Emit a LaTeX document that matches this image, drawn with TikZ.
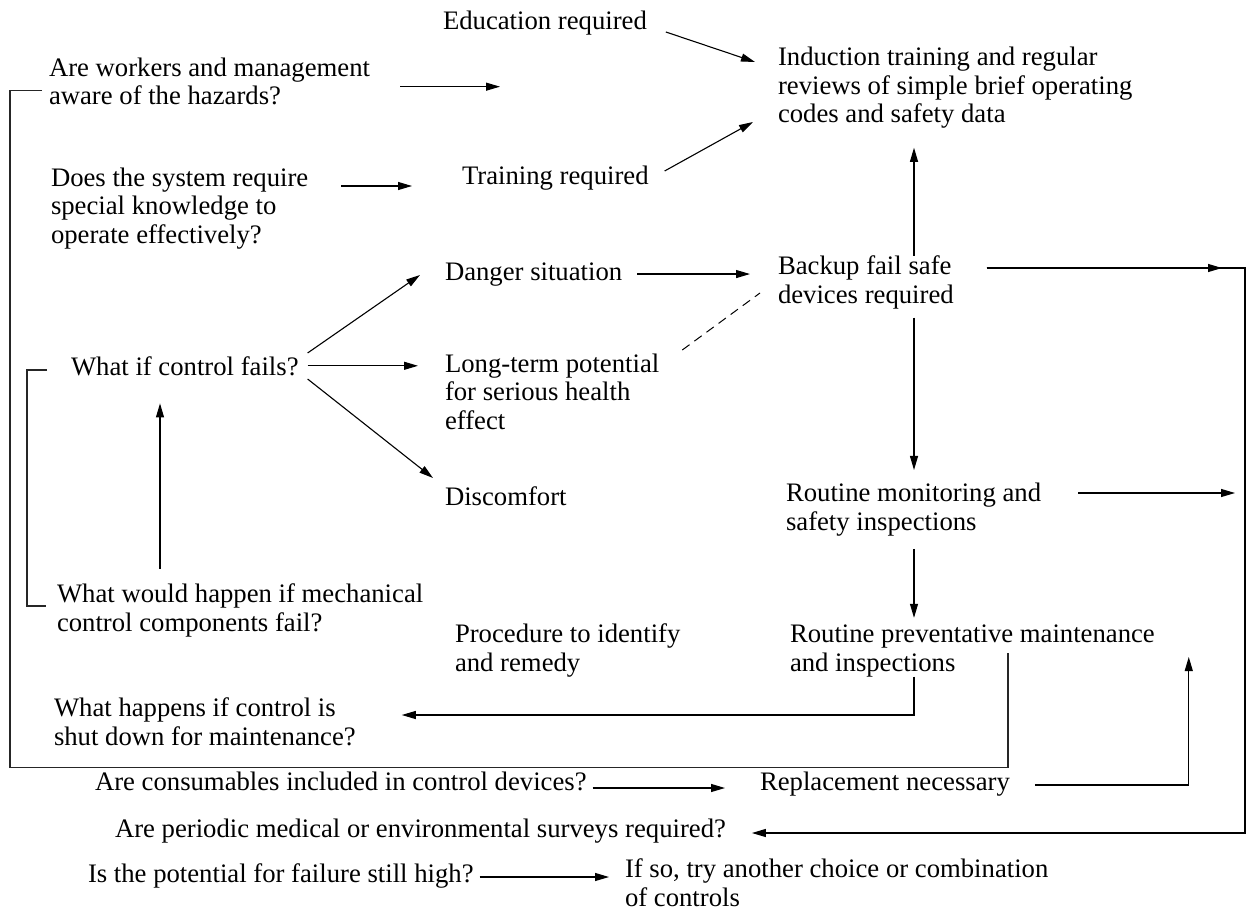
\documentclass[tikz,border=0pt]{standalone}
\usepackage{fontspec}
\setmainfont{Liberation Serif}
\usetikzlibrary{arrows.meta}

\begin{document}
\begin{tikzpicture}[
  x=1pt,y=-1pt,
  txt/.style={anchor=base west,inner sep=0pt,outer sep=0pt,align=left,
    font=\fontsize{26.7}{28.5}\selectfont},
  arrow/.style={-{Triangle[length=14pt,width=8pt]},line width=1.1pt},
  dashline/.style={dash pattern=on 9pt off 6pt,line width=1pt},
  bracket/.style={line width=1.4pt,black!85},
]
\useasboundingbox (0,0) rectangle (1247,912);

% Questions (left column), placed by the baseline of the last line
\node[txt] (aware) at (49,105) {Are workers and management\\aware of the hazards?};
\node[txt] (know) at (51,243) {Does the system require\\special knowledge to\\operate effectively?};
\node[txt] (fails) at (71,375) {What if control fails?};
\node[txt] (mech) at (57,631) {What would happen if mechanical\\control components fail?};
\node[txt] (shut) at (54,745) {What happens if control is\\shut down for maintenance?};

% Outcomes (middle column)
\node[txt] (edu) at (443,30) {Education required};
\node[txt] (train) at (462,185) {Training required};
\node[txt] (danger) at (445,280) {Danger situation};
\node[txt] (longterm) at (445,429) {Long-term potential\\for serious health\\effect};
\node[txt] (discomf) at (445,505) {Discomfort};
\node[txt] (proc) at (455,671) {Procedure to identify\\and remedy};

% Measures (right column)
\node[txt] (induct) at (778,123) {Induction training and regular\\reviews of simple brief operating\\codes and safety data};
\node[txt] (backup) at (778,303) {Backup fail safe\\devices required};
\node[txt] (monitor) at (786,530) {Routine monitoring and\\safety inspections};
\node[txt] (prevent) at (790,671) {Routine preventative maintenance\\and inspections};

% Bottom rows
\node[txt] (consum) at (95,790) {Are consumables included in control devices?};
\node[txt] (replace) at (760,790) {Replacement necessary};
\node[txt] (periodic) at (115,837) {Are periodic medical or environmental surveys required?};
\node[txt] (still) at (88,882) {Is the potential for failure still high?};
\node[txt] (ifso) at (625,906) {If so, try another choice or combination\\of controls};

% Guide lines
\coordinate (spine) at (914,0);
\coordinate (rail) at (1245,0);

% Arrows into the training box
\draw[arrow] ([shift={(19,2)}]edu.base east) -- ([shift={(-23,-61)}]induct.base west);
\draw[arrow] ([shift={(30,5)}]aware.east) -- ([shift={(130,5)}]aware.east);
\draw[arrow] ([shift={(33,-57)}]know.base east) -- ([shift={(-50,1)}]train.base west);
\draw[arrow] ([shift={(16,-14)}]train.base east) -- ([shift={(-25,-1)}]induct.base west);
\draw[arrow,shorten >=19pt] (backup.north -| spine) -- (induct.south -| spine);

% Failure branches
\draw[arrow] ([shift={(9,-22)}]fails.base east) -- ([shift={(-25,-5)}]danger.base west);
\draw[arrow,shorten <=9pt,shorten >=27pt] (fails.east) -- (fails.east -| longterm.west);
\draw[arrow] ([shift={(9,4)}]fails.base east) -- ([shift={(-12,-27)}]discomf.base west);
\coordinate (mechup) at ([shift={(103,-15)}]mech.north west);
\draw[arrow,shorten >=28pt] (mechup) -- (mechup |- fails.south);
\draw[bracket] ([shift={(-24,4)}]fails.west) -- ++(-20,0) |- ([shift={(-11,-4)}]mech.west);

% Danger path
\draw[arrow,shorten <=15pt,shorten >=28pt] (danger.east) -- (danger.east -| backup.west);
\draw[dashline] ([shift={(23,-79)}]longterm.base east) -- ([shift={(-18,-10)}]backup.base west);

% Spine downwards
\draw[arrow,shorten <=9pt,shorten >=13pt] (backup.south -| spine) -- (monitor.north -| spine);
\draw[arrow,shorten <=13pt,shorten >=7pt] (monitor.south -| spine) -- (prevent.north -| spine);
\draw[arrow] (prevent.south -| spine) |- ([shift={(46,-30)}]shut.base east);

% Right rail
\coordinate (bstart) at ([shift={(33,-35)}]backup.base east);
\draw[arrow] (bstart) -- (bstart -| rail) |- ([shift={(26,-4)}]periodic.base east);
\draw[arrow,shorten >=23pt] (bstart) -- (bstart -| rail);
\coordinate (mstart) at ([shift={(37,-37)}]monitor.base east);
\draw[arrow,shorten >=10pt] (mstart) -- (mstart -| rail);

% Big loop back to awareness
\coordinate (loopend) at ([shift={(218,-18)}]prevent.base west);
\draw[bracket] ([shift={(-7,9)}]aware.west) -- ++(-32,0) |- ([yshift=4pt]loopend |- consum.north) -- (loopend);

% Consumables
\draw[arrow] ([shift={(6,-2)}]consum.base east) -- ([shift={(-35,-2)}]replace.base west);
\draw[arrow] ([shift={(25,-5)}]replace.base east) -| ([shift={(34,-14)}]prevent.base east);

% Last check
\draw[arrow] ([shift={(6,-5)}]still.base east) -- ([shift={(-16,-29)}]ifso.base west);

\end{tikzpicture}
\end{document}
